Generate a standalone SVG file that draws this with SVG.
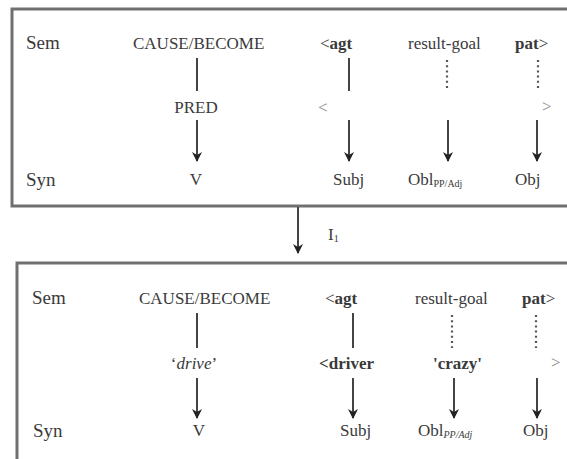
<svg xmlns="http://www.w3.org/2000/svg" width="567" height="459" viewBox="0 0 567 459">
<defs>
<style>
.t{font-family:"Liberation Serif","Times New Roman",serif;font-size:17px;fill:#3a3a3a}
.lab{font-size:19px}
.b{font-weight:bold}
.g{fill:#8a8a8a}
.sub{font-size:10px}
.box{fill:#fff;stroke:#707070;stroke-width:3}
.solid{stroke:#444;stroke-width:2;fill:none}
.dot{stroke:#555;stroke-width:2.2;stroke-dasharray:2 3.2;fill:none}
.arr{stroke:#444;stroke-width:2;fill:none;marker-end:url(#ah)}
</style>
<marker id="ah" viewBox="0 0 10 10" refX="9" refY="5" markerWidth="5" markerHeight="5" orient="auto" markerUnits="strokeWidth">
<path d="M0,0 L10,5 L0,10 L3,5 z" fill="#222"/>
</marker>
</defs>
<rect width="567" height="459" fill="#fff"/>

<g id="box-top">
<rect class="box" x="12" y="9" width="580" height="197"/>
<text class="t lab" x="26" y="49">Sem</text>
<text class="t" x="133" y="49">CAUSE/BECOME</text>
<text class="t" x="320" y="49">&lt;<tspan class="b">agt</tspan></text>
<text class="t" x="408" y="49">result-goal</text>
<text class="t" x="515" y="49"><tspan class="b">pat</tspan>&gt;</text>
<text class="t" x="196" y="113" text-anchor="middle">PRED</text>
<text class="t g" x="318" y="113">&lt;</text>
<text class="t g" x="542" y="112">&gt;</text>
<text class="t lab" x="26" y="186">Syn</text>
<text class="t" x="196" y="185" text-anchor="middle">V</text>
<text class="t" x="333" y="185">Subj</text>
<text class="t" x="408" y="185">Obl<tspan class="sub" dy="2">PP/Adj</tspan></text>
<text class="t" x="515" y="185">Obj</text>
</g>

<g id="box-bottom">
<rect class="box" x="17" y="263" width="580" height="210"/>
<text class="t lab" x="32" y="304">Sem</text>
<text class="t" x="139" y="304">CAUSE/BECOME</text>
<text class="t" x="325" y="304">&lt;<tspan class="b">agt</tspan></text>
<text class="t" x="415" y="304">result-goal</text>
<text class="t" x="522" y="304"><tspan class="b">pat</tspan>&gt;</text>
<text class="t" x="194" y="369" text-anchor="middle">‘<tspan font-style="italic">drive</tspan>’</text>
<text class="t b" x="319" y="369">&lt;driver</text>
<text class="t b" x="433" y="369">'crazy'</text>
<text class="t g" x="551" y="368">&gt;</text>
<text class="t lab" x="33" y="437">Syn</text>
<text class="t" x="199" y="436" text-anchor="middle">V</text>
<text class="t" x="340" y="436">Subj</text>
<text class="t" x="418" y="436">Obl<tspan class="sub" font-style="italic" dy="2">PP/Adj</tspan></text>
<text class="t" x="523" y="436">Obj</text>
</g>

<g id="rule-label">
<text class="t" x="328" y="240">I<tspan class="sub" dy="2">1</tspan></text>
</g>

<g id="connectors">
<line class="solid" x1="197" y1="58" x2="197" y2="91"/>
<line class="solid" x1="349" y1="58" x2="349" y2="91"/>
<line class="dot" x1="447" y1="60" x2="447" y2="91"/>
<line class="dot" x1="538" y1="60" x2="538" y2="91"/>
<line class="arr" x1="197" y1="120" x2="197" y2="161"/>
<line class="arr" x1="349" y1="120" x2="349" y2="161"/>
<line class="arr" x1="448" y1="120" x2="448" y2="161"/>
<line class="arr" x1="537" y1="120" x2="537" y2="161"/>

<line class="arr" x1="298" y1="207" x2="298" y2="253"/>

<line class="solid" x1="197" y1="313" x2="197" y2="348"/>
<line class="solid" x1="353" y1="313" x2="353" y2="348"/>
<line class="dot" x1="452" y1="315" x2="452" y2="348"/>
<line class="dot" x1="536" y1="315" x2="536" y2="348"/>
<line class="arr" x1="197" y1="378" x2="197" y2="418"/>
<line class="arr" x1="353" y1="378" x2="353" y2="418"/>
<line class="arr" x1="454" y1="378" x2="454" y2="418"/>
<line class="arr" x1="537" y1="378" x2="537" y2="418"/>
</g>
</svg>
